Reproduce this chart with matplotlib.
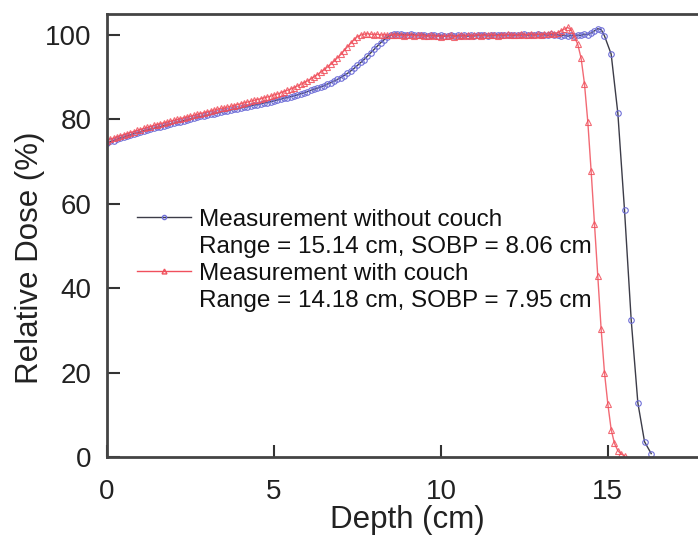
import numpy as np
import matplotlib.pyplot as plt
from matplotlib.lines import Line2D

plt.rcParams['font.family'] = ['Liberation Sans', 'DejaVu Sans']

# Depth-dose profile without couch (0.1 cm steps to 14.9 cm, then 0.2 cm)
depth_no_couch = np.r_[np.arange(0, 150) / 10.0, np.arange(151, 165, 2) / 10.0]
dose_no_couch = [
    74.5, 74.8, 75.0, 75.3, 75.6, 75.8, 76.1, 76.3, 76.6, 76.8,
    77.0, 77.3, 77.5, 77.7, 77.9, 78.1, 78.3, 78.5, 78.7, 78.9,
    79.1, 79.3, 79.5, 79.7, 79.9, 80.1, 80.3, 80.5, 80.7, 80.8,
    81.0, 81.2, 81.4, 81.5, 81.7, 81.9, 82.0, 82.2, 82.4, 82.5,
    82.7, 82.9, 83.0, 83.2, 83.4, 83.5, 83.7, 83.9, 84.0, 84.2,
    84.4, 84.6, 84.8, 85.0, 85.2, 85.4, 85.6, 85.8, 86.1, 86.3,
    86.6, 86.9, 87.1, 87.4, 87.7, 88.0, 88.4, 88.7, 89.1, 89.5,
    89.9, 90.4, 90.9, 91.5, 92.1, 92.8, 93.5, 94.2, 95.0, 95.8,
    96.6, 97.4, 98.2, 98.9, 99.5, 99.9, 100.2, 100.3, 100.2, 100.1,
    100.0, 100.2, 100.1, 99.9, 100.0, 100.1, 99.8, 99.9, 100.0, 99.8,
    99.9, 99.7, 99.8, 100.0, 99.7, 99.9, 99.8, 100.0, 99.7, 99.9,
    99.8, 100.0, 99.9, 100.1, 99.8, 100.0, 99.9, 100.1, 100.0, 99.9,
    100.1, 100.0, 99.9, 100.1, 100.0, 100.2, 99.9, 100.1, 100.0, 100.2,
    100.0, 100.1, 99.9, 100.2, 100.0, 100.1, 99.8, 100.0, 99.7, 99.9,
    99.8, 100.0, 99.9, 100.2, 100.1, 100.5, 101.0, 101.5, 101.3, 99.8,
    95.5, 81.5, 58.5, 32.5, 12.8, 3.6, 0.8,
]

# Depth-dose profile with couch (0.1 cm steps)
depth_couch = np.arange(0, 156) / 10.0
dose_couch = [
    75.0, 75.3, 75.6, 75.8, 76.1, 76.4, 76.6, 76.9, 77.1, 77.4,
    77.6, 77.9, 78.1, 78.3, 78.6, 78.8, 79.0, 79.2, 79.4, 79.6,
    79.8, 80.0, 80.2, 80.4, 80.6, 80.8, 81.0, 81.2, 81.4, 81.6,
    81.8, 82.0, 82.2, 82.4, 82.6, 82.7, 82.9, 83.1, 83.3, 83.5,
    83.7, 83.9, 84.1, 84.3, 84.5, 84.7, 84.9, 85.1, 85.3, 85.5,
    85.8, 86.0, 86.3, 86.6, 86.9, 87.2, 87.5, 87.9, 88.3, 88.7,
    89.1, 89.6, 90.1, 90.6, 91.2, 91.8, 92.4, 93.1, 93.8, 94.6,
    95.4, 96.3, 97.2, 98.1, 98.9, 99.6, 100.0, 100.2, 100.3, 100.2,
    100.1, 100.2, 100.0, 100.1, 99.9, 100.0, 100.1, 99.9, 100.0, 99.8,
    99.9, 100.0, 99.8, 99.9, 100.0, 99.7, 99.8, 99.9, 99.7, 99.8,
    99.6, 99.8, 99.7, 99.9, 99.6, 99.8, 99.9, 99.7, 100.0, 99.8,
    99.9, 100.1, 99.8, 100.0, 99.9, 100.1, 100.0, 99.8, 100.1, 100.0,
    100.2, 100.0, 100.1, 99.9, 100.2, 100.0, 100.1, 100.3, 100.0, 100.2,
    100.1, 100.3, 100.2, 100.4, 100.3, 100.6, 101.0, 101.4, 101.8, 101.2,
    99.6, 97.8, 94.5, 88.5, 79.5, 67.8, 55.2, 42.8, 30.3, 20.0,
    12.6, 6.5, 3.2, 1.5, 0.7, 0.3,
]

labels = [
    'Measurement without couch',
    'Range = 15.14 cm, SOBP = 8.06 cm',
    'Measurement with couch',
    'Range = 14.18 cm, SOBP = 7.95 cm',
]

blue_line = '#3c3c48'
blue_marker = '#6f6fd8'
red = '#f0505c'

fig = plt.figure(figsize=(6.98, 5.37), dpi=100)
# axes runs past the right edge of the figure (x up to 18 cm)
ax = fig.add_axes([0.1533, 0.149, 0.861, 0.825])

ax.plot(depth_no_couch, dose_no_couch, color=blue_line, linewidth=1.0,
        marker='o', markersize=4, markerfacecolor='none',
        markeredgecolor=blue_marker, markeredgewidth=0.8)
ax.plot(depth_couch, dose_couch, color=red, linewidth=1.0, alpha=0.85,
        marker='^', markersize=4.5, markerfacecolor='none',
        markeredgecolor=red, markeredgewidth=0.8)

ax.set_xlim(0, 18)
ax.set_ylim(0, 105)
ax.set_xticks([0, 5, 10, 15])
ax.set_yticks([0, 20, 40, 60, 80, 100])
ax.tick_params(direction='in', length=9, width=1.5, colors='#333333',
               labelsize=20, labelcolor='#222222')
ax.tick_params(axis='x', pad=16)
ax.tick_params(axis='y', pad=11)
for side in ['left', 'bottom', 'top']:
    ax.spines[side].set_linewidth(2)
    ax.spines[side].set_color('#444444')
ax.spines['right'].set_visible(False)

ax.set_xlabel('Depth (cm)', fontsize=22.5, color='#222222', labelpad=0)
ax.set_ylabel('Relative Dose (%)', fontsize=22.5, color='#222222')
ax.yaxis.set_label_coords(-0.104, 0.45)

# Two-line legend entries: handle only on the first line
handles = [
    Line2D([], [], color=blue_line, linewidth=1.0, marker='o', markersize=3,
           markerfacecolor='none', markeredgecolor=blue_marker),
    Line2D([], [], linestyle='none'),
    Line2D([], [], color=red, linewidth=1.0, marker='^', markersize=3.5,
           markerfacecolor='none', markeredgecolor=red),
    Line2D([], [], linestyle='none'),
]
ax.legend(handles, labels, loc='upper left', bbox_to_anchor=(0.05, 0.56),
          frameon=False, fontsize=17.5, handlelength=2.2, handletextpad=0.33,
          labelspacing=0.2, borderpad=0, borderaxespad=0, labelcolor='#111111')

fig.savefig('out.png', dpi=100)
